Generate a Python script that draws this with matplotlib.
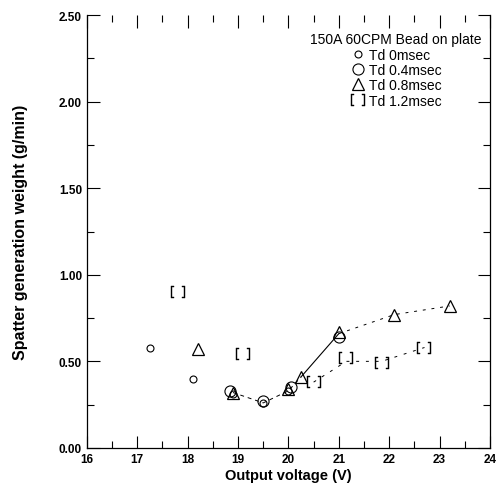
import matplotlib
matplotlib.use("Agg")
import matplotlib.pyplot as plt
from matplotlib.ticker import MultipleLocator, FormatStrFormatter

plt.rcParams['font.family'] = ['Liberation Sans', 'DejaVu Sans']

# data
v_td0 = [17.25, 18.1, 18.9, 19.5, 20.0]
w_td0 = [0.58, 0.40, 0.31, 0.26, 0.33]

v_td04 = [18.85, 19.5, 20.05, 21.0]
w_td04 = [0.33, 0.27, 0.35, 0.64]

v_td08 = [18.2, 18.9, 20.0, 20.25, 21.0, 22.1, 23.2]
w_td08 = [0.57, 0.32, 0.34, 0.41, 0.67, 0.77, 0.82]

v_td12 = [17.8, 19.1, 20.5, 21.15, 21.85, 22.7]
w_td12 = [0.90, 0.54, 0.38, 0.52, 0.49, 0.58]

# hand-drawn trend lines
v_fit_a = [18.9, 19.5, 20.0, 20.25]
w_fit_a = [0.32, 0.26, 0.33, 0.41]
v_fit_b = [20.25, 21.0]
w_fit_b = [0.41, 0.66]
v_fit_c = [21.0, 22.1, 23.2]
w_fit_c = [0.66, 0.77, 0.82]
v_fit_d = [20.5, 21.15, 21.85, 22.7]
w_fit_d = [0.38, 0.50, 0.50, 0.58]

fig = plt.figure(figsize=(4.99, 4.89), dpi=100)
ax = fig.add_axes([0.174, 0.082, 0.808, 0.885])

ax.plot(v_fit_a, w_fit_a, color='black', lw=0.7, ls=(0, (4, 4)))
ax.plot(v_fit_b, w_fit_b, color='black', lw=0.8, ls='-')
ax.plot(v_fit_c, w_fit_c, color='black', lw=0.7, ls=(0, (3, 6)))
ax.plot(v_fit_d, w_fit_d, color='black', lw=0.7, ls=(0, (3, 7)))

ax.plot(v_td0, w_td0, ls='none', marker='o', ms=5, mfc='none', mec='black', mew=0.8,
        label='Td 0msec')
ax.plot(v_td04, w_td04, ls='none', marker='o', ms=8, mfc='none', mec='black', mew=0.8,
        label='Td 0.4msec')
ax.plot(v_td08, w_td08, ls='none', marker='^', ms=8, mfc='none', mec='black', mew=0.9,
        label='Td 0.8msec')
ax.plot(v_td12, w_td12, ls='none', marker='$[\\;\\,]$', ms=10, color='black', mew=0.3,
        label='Td 1.2msec')

ax.set_xlim(16, 24)
ax.set_ylim(0, 2.5)
ax.xaxis.set_major_locator(MultipleLocator(1))
ax.xaxis.set_minor_locator(MultipleLocator(0.5))
ax.yaxis.set_major_locator(MultipleLocator(0.5))
ax.yaxis.set_minor_locator(MultipleLocator(0.25))
ax.yaxis.set_major_formatter(FormatStrFormatter('%.2f'))

ax.tick_params(which='both', direction='in', top=True, right=True, width=0.8)
ax.tick_params(which='major', length=9, labelsize=8.5)
ax.tick_params(which='minor', length=5)
for lab in ax.get_xticklabels() + ax.get_yticklabels():
    lab.set_fontweight('bold')

ax.spines['top'].set_visible(False)
for s in ['left', 'right', 'bottom']:
    ax.spines[s].set_linewidth(0.9)

ax.set_xlabel('Output voltage (V)', fontsize=10.5, fontweight='bold', labelpad=2)
ax.set_ylabel('Spatter generation weight (g/min)', fontsize=11.5, fontweight='bold', labelpad=22)

leg = ax.legend(title='150A 60CPM Bead on plate', loc='upper right',
                bbox_to_anchor=(1.0, 0.98), frameon=False, fontsize=10,
                title_fontsize=10, handletextpad=0.2, labelspacing=0.1,
                borderaxespad=0.2, handlelength=1.2)
leg._legend_box.align = 'center'

fig.savefig('out.png', dpi=100)
